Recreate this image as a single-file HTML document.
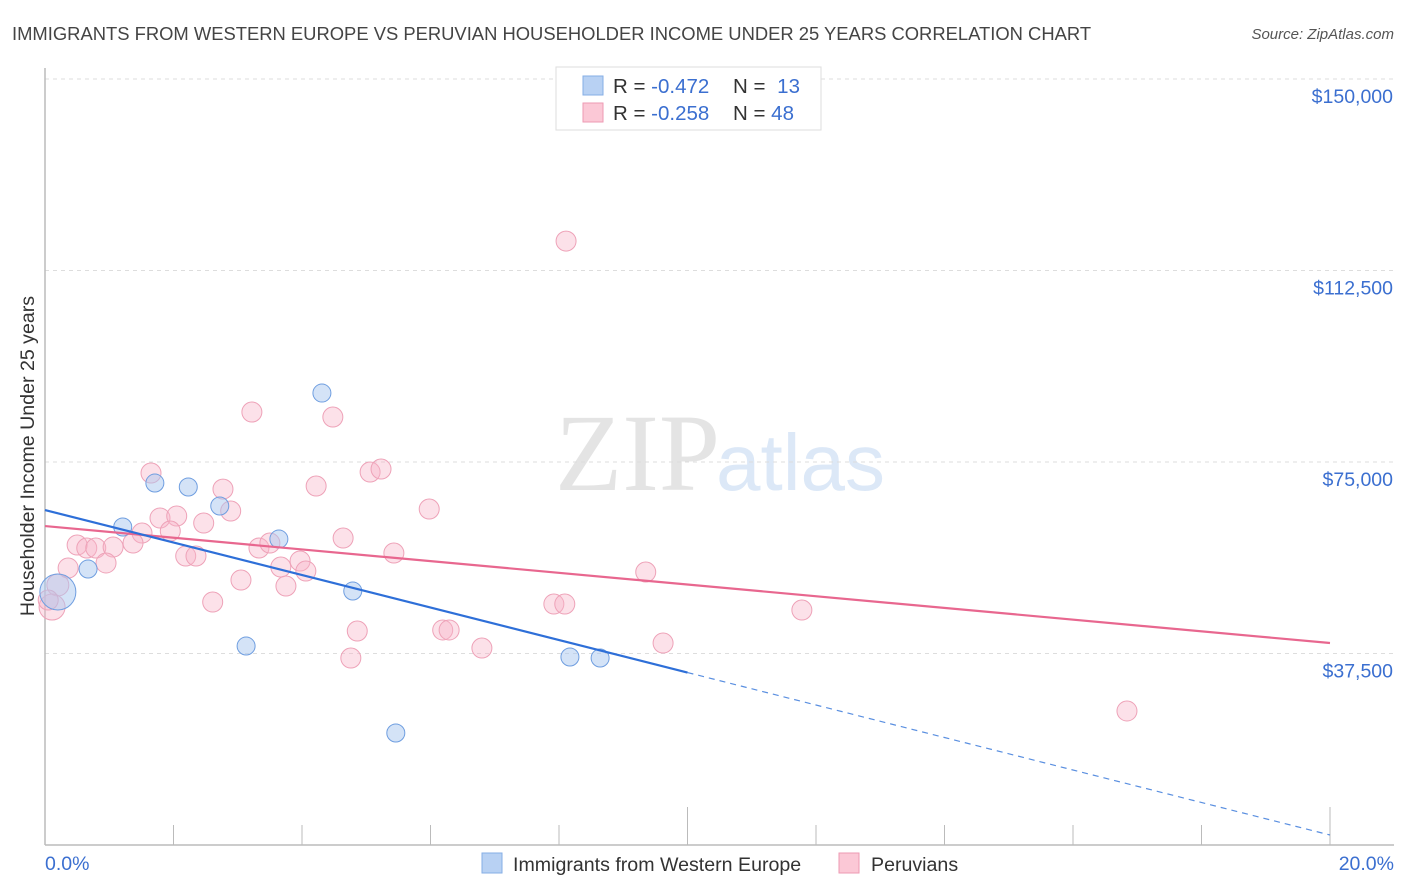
<!DOCTYPE html>
<html><head><meta charset="utf-8">
<style>
body{margin:0;background:#fff;font-family:"Liberation Sans",sans-serif;}
#wrap{position:relative;width:1406px;height:892px;overflow:hidden;}
</style></head>
<body>
<div id="wrap">
<svg id="svg" width="1406" height="892" xmlns="http://www.w3.org/2000/svg">
<text x="12" y="40" font-size="18.4" fill="#444">IMMIGRANTS FROM WESTERN EUROPE VS PERUVIAN HOUSEHOLDER INCOME UNDER 25 YEARS CORRELATION CHART</text>
<text x="1394" y="39" font-size="15" fill="#555" font-style="italic" text-anchor="end">Source: ZipAtlas.com</text>
<text x="555" y="490" font-size="110" fill="#e4e4e4" font-family="Liberation Serif,serif">ZIP</text>
<text x="716" y="490" font-size="80" fill="#dce8f7">atlas</text>
<g id="grid"></g>
<g id="axes"></g>
<g id="marks"></g>
<text transform="translate(34,456) rotate(-90)" font-size="19.6" fill="#333" text-anchor="middle">Householder Income Under 25 years</text>
<g>
<rect x="556" y="67" width="265" height="63" fill="#fff" stroke="#ddd"/>
<rect x="583" y="76" width="20" height="19" fill="#b8d1f3" stroke="#85aee6"/>
<rect x="583" y="103" width="20" height="19" fill="#fbc8d6" stroke="#ee9ab3"/>
<text x="613" y="93" font-size="20.5" fill="#333">R = <tspan fill="#3b6fd0">-0.472</tspan></text>
<text x="733" y="93" font-size="20.5" fill="#333">N = <tspan fill="#3b6fd0" dx="6">13</tspan></text>
<text x="613" y="120" font-size="20.5" fill="#333">R = <tspan fill="#3b6fd0">-0.258</tspan></text>
<text x="733" y="120" font-size="20.5" fill="#333">N = <tspan fill="#3b6fd0">48</tspan></text>
</g>
<g>
<rect x="482" y="853" width="20" height="20" fill="#b8d1f3" stroke="#85aee6"/>
<text x="513" y="871" font-size="19.6" fill="#333">Immigrants from Western Europe</text>
<rect x="839" y="853" width="20" height="20" fill="#fbc8d6" stroke="#ee9ab3"/>
<text x="871" y="871" font-size="19.6" fill="#333">Peruvians</text>
</g>
</svg>
</div>
<script>
const yTicks=[37500,75000,112500,150000];
const yTickLabels=["$37,500","$75,000","$112,500","$150,000"];
const xTicks=[0,2,4,6,8,10,12,14,16,18,20];
const blueX=[0.2,0.67,1.21,1.71,2.23,2.72,3.13,3.64,4.31,4.79,5.46,8.17,8.64];
const blueY=[49540,54040,62270,70880,70100,66380,38960,59910,88500,49730,21930,36810,36610];
const pinkX=[1.65,3.22,4.48,5.06,5.23,4.22,2.77,2.89,5.98,1.79,2.05,1.95,2.47,1.51,1.37,0.50,0.65,0.79,1.06,0.95,0.36,0.20,0.11,2.19,2.35,3.33,3.50,4.64,5.43,3.97,3.67,4.06,3.05,3.75,2.61,4.86,4.76,6.19,6.29,8.11,6.80,7.92,8.09,9.35,9.62,11.78,16.84,0.05];
const pinkY=[72840,84780,83800,73030,73620,70290,69700,65400,65790,64030,64420,61480,63050,61090,59130,58740,58150,58150,58350,55220,54240,50910,46600,56590,56590,58150,59130,60110,57170,55610,54430,53650,51890,50710,47580,41900,36610,42100,42100,118260,38570,47190,47190,53450,39550,46010,26240,47970];
const blueTrend=[0,65590,20,1958];
const pinkTrend=[0,62460,20,39550];
const blueSolidEnd=10;

const X=v=>45+v/20*1285;
const Y=v=>845-v*766/150000;
const NS="http://www.w3.org/2000/svg";
function mk(tag,attrs,parent){const e=document.createElementNS(NS,tag);for(const k in attrs)e.setAttribute(k,attrs[k]);document.getElementById(parent).appendChild(e);return e;}

yTicks.forEach((t,i)=>{
  const l=mk('line',{x1:45,x2:1394,y1:Y(t),y2:Y(t),stroke:'#ddd','stroke-dasharray':'4,4'},'grid');
  
  
  const tx=mk('text',{x:1393,y:Y(t)+24,'font-size':19.5,fill:'#3b6fd0','text-anchor':'end'},'axes');
  tx.textContent=yTickLabels[i];
  
  
});
let ax=mk('line',{x1:45,x2:1394,y1:845,y2:845,stroke:'#bbb','stroke-width':1.5},'axes');


let ay=mk('line',{x1:45,x2:45,y1:68,y2:845,stroke:'#bbb','stroke-width':1.5},'axes');


xTicks.forEach(t=>{
  const tk=mk('line',{x1:X(t),x2:X(t),y1:(t%10===0?807:825),y2:845,stroke:'#bbb'},'axes');
  
  
});
let xl0=mk('text',{x:45,y:870,'font-size':19.5,fill:'#3b6fd0'},'axes');xl0.textContent='0.0%';


let xl1=mk('text',{x:1394,y:870,'font-size':19.5,fill:'#3b6fd0','text-anchor':'end'},'axes');xl1.textContent='20.0%';



pinkX.forEach((x,i)=>{
  let r=10; if(i===22)r=13; if(i===21)r=11;
  const c=mk('circle',{cx:X(x),cy:Y(pinkY[i]),r:r,fill:'rgba(248,180,200,0.4)',stroke:'#eea2b8','stroke-width':1},'marks');
  
  
});
blueX.forEach((x,i)=>{
  const r=i===0?18:9;
  const c=mk('circle',{cx:X(x),cy:Y(blueY[i]),r:r,fill:'rgba(170,200,240,0.5)',stroke:'#6f9ee0','stroke-width':1},'marks');
  
  
});
function ty(tr,x){return tr[1]+(tr[3]-tr[1])*(x-tr[0])/(tr[2]-tr[0]);}
let pl=mk('line',{x1:X(pinkTrend[0]),y1:Y(pinkTrend[1]),x2:X(pinkTrend[2]),y2:Y(pinkTrend[3]),stroke:'#e8678f','stroke-width':2.2},'marks');


let bl=mk('line',{x1:X(blueTrend[0]),y1:Y(blueTrend[1]),x2:X(blueSolidEnd),y2:Y(ty(blueTrend,blueSolidEnd)),stroke:'#2e6fd8','stroke-width':2.2},'marks');


let bd=mk('line',{x1:X(blueSolidEnd),y1:Y(ty(blueTrend,blueSolidEnd)),x2:X(blueTrend[2]),y2:Y(blueTrend[3]),stroke:'#5a8fe0','stroke-width':1.2,'stroke-dasharray':'6,5'},'marks');


</script>
</body></html>
